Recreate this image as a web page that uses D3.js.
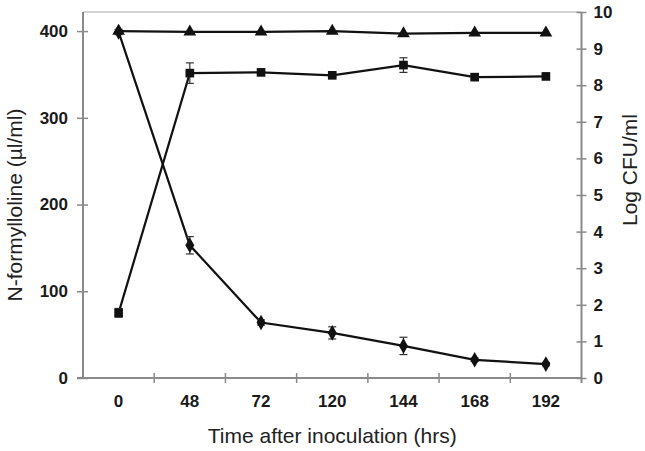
<!DOCTYPE html>
<html>
<head>
<meta charset="utf-8">
<script src="https://cdn.jsdelivr.net/npm/d3@7"></script>
<style>
  html, body { margin: 0; padding: 0; background: #fff; }
  svg { display: block; }
</style>
</head>
<body>
<svg id="chart" width="645" height="451"></svg>
<script>
// ---- data ----
const categories = ["0", "48", "72", "120", "144", "168", "192"];
// N-formylloline (µl/ml), left axis, diamonds
const formylloline = [399, 153, 64, 52, 37, 21, 16];
const formyllolineErr = [3, 10, 3, 7, 10, 2, 2];
// Log CFU/ml, right axis, squares
const logCFU = [1.78, 8.33, 8.35, 8.27, 8.55, 8.22, 8.24];
const logCFUErr = [0.12, 0.28, 0.05, 0.05, 0.2, 0.05, 0.05];
// control N-formylloline, left axis, triangles
const control = [400, 399, 399, 400, 397, 398, 398];
const leftTicks = [0, 100, 200, 300, 400];
const rightTicks = [0, 1, 2, 3, 4, 5, 6, 7, 8, 9, 10];

// ---- layout ----
const svg = d3.select("#chart");
const L = 83, R = 581.5, T = 12, B = 378;
const axisColor = "#8a8a8a";

const x = d3.scaleBand().domain(categories).range([L, R]).padding(0);
const cx = c => x(c) + x.bandwidth() / 2;
const yL = d3.scaleLinear().domain([0, 422]).range([B, T]);
const yR = d3.scaleLinear().domain([0, 10]).range([B, T]);

// top border
svg.append("line").attr("x1", L).attr("x2", R).attr("y1", T).attr("y2", T)
  .attr("stroke", "#c4c4c4").attr("stroke-width", 1.5);

const tickFont = "Liberation Sans, Arial, sans-serif";

// left axis
const gL = svg.append("g").attr("transform", `translate(${L},0)`)
  .call(d3.axisLeft(yL).tickValues(leftTicks).tickSize(6).tickPadding(9));
gL.select(".domain").attr("stroke", axisColor).attr("stroke-width", 2).attr("d", `M0,${T}V${B}`);
gL.selectAll(".tick line").attr("x1", -6).attr("x2", 5).attr("stroke", axisColor).attr("stroke-width", 1.5);
gL.selectAll(".tick text").attr("font-family", tickFont)
  .attr("font-size", 17).attr("font-weight", "bold").attr("fill", "#1a1a1a");

// right axis
const gR = svg.append("g").attr("transform", `translate(${R},0)`)
  .call(d3.axisRight(yR).tickValues(rightTicks).tickSize(5).tickPadding(7));
gR.select(".domain").attr("stroke", axisColor).attr("stroke-width", 2).attr("d", `M0,${T}V${B + 5}`);
gR.selectAll(".tick line").attr("x1", -5).attr("x2", 5).attr("stroke", axisColor).attr("stroke-width", 1.5);
gR.selectAll(".tick text").attr("font-family", tickFont)
  .attr("font-size", 17).attr("font-weight", "bold").attr("fill", "#1a1a1a");

// bottom axis (labels at category centres, ticks at boundaries)
const gB = svg.append("g").attr("transform", `translate(0,${B})`)
  .call(d3.axisBottom(x).tickSize(0).tickPadding(17));
gB.select(".domain").attr("stroke", axisColor).attr("stroke-width", 2).attr("d", `M${L - 6},0H${R}`);
gB.selectAll(".tick text").attr("font-family", tickFont)
  .attr("font-size", 17).attr("font-weight", "bold").attr("fill", "#1a1a1a");
gB.selectAll("line.bnd").data(categories.slice(1)).enter().append("line")
  .attr("class", "bnd")
  .attr("x1", d => x(d)).attr("x2", d => x(d))
  .attr("y1", -5).attr("y2", 5)
  .attr("stroke", axisColor).attr("stroke-width", 1.5);

// axis titles
const titleFont = "Liberation Sans, Arial, sans-serif";
svg.append("text").attr("x", (L + R) / 2).attr("y", 443)
  .attr("text-anchor", "middle").attr("font-family", titleFont).attr("font-size", 21)
  .attr("fill", "#222").text("Time after inoculation (hrs)");
svg.append("text").attr("transform", `translate(22,205) rotate(-90)`)
  .attr("text-anchor", "middle").attr("font-family", titleFont).attr("font-size", 21)
  .attr("fill", "#222").text("N-formylloline (µl/ml)");
svg.append("text").attr("transform", `translate(637,170) rotate(-90)`)
  .attr("text-anchor", "middle").attr("font-family", titleFont).attr("font-size", 21)
  .attr("fill", "#222").text("Log CFU/ml");

// ---- series ----
function drawSeries(values, errs, y, symbolType, size) {
  const pts = categories.map((c, i) => ({ c, v: values[i], e: errs ? errs[i] : 0 }));
  const line = d3.line().x(d => cx(d.c)).y(d => y(d.v));
  svg.append("path").datum(pts).attr("d", line)
    .attr("fill", "none").attr("stroke", "#111").attr("stroke-width", 2.2);
  if (errs) {
    const g = svg.append("g").attr("stroke", "#333").attr("stroke-width", 1.2);
    pts.forEach(d => {
      if (!d.e) return;
      const xx = cx(d.c), y1 = y(d.v + d.e), y2 = y(d.v - d.e);
      g.append("line").attr("x1", xx).attr("x2", xx).attr("y1", y1).attr("y2", y2);
      g.append("line").attr("x1", xx - 4).attr("x2", xx + 4).attr("y1", y1).attr("y2", y1);
      g.append("line").attr("x1", xx - 4).attr("x2", xx + 4).attr("y1", y2).attr("y2", y2);
    });
  }
  svg.append("g").selectAll("path").data(pts).enter().append("path")
    .attr("transform", d => `translate(${cx(d.c)},${y(d.v)})`)
    .attr("d", d3.symbol().type(symbolType).size(size))
    .attr("fill", "#111");
}

drawSeries(control, null, yL, d3.symbolTriangle, 70);
drawSeries(logCFU, logCFUErr, yR, d3.symbolSquare, 75);
drawSeries(formylloline, formyllolineErr, yL, d3.symbolDiamond, 70);
</script>
</body>
</html>
